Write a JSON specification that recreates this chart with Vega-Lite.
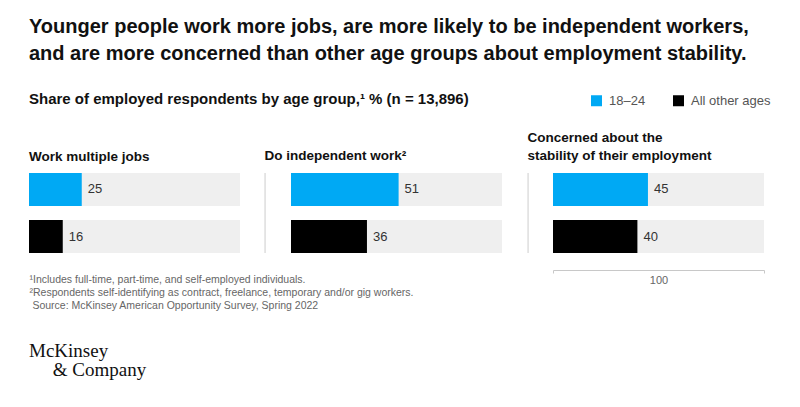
{
  "$schema": "https://vega.github.io/schema/vega-lite/v6.json",
  "padding": {"left": 29, "top": 17, "right": 5, "bottom": 5},
  "background": "white",
  "config": {
    "font": "Liberation Sans",
    "view": {"stroke": null},
    "concat": {"spacing": 51}
  },
  "data": {
    "values": [
      {"panel": "Work multiple jobs", "group": "18–24", "value": 25},
      {"panel": "Work multiple jobs", "group": "All other ages", "value": 16},
      {"panel": "Do independent work", "group": "18–24", "value": 51},
      {"panel": "Do independent work", "group": "All other ages", "value": 36},
      {"panel": "Concerned", "group": "18–24", "value": 45},
      {"panel": "Concerned", "group": "All other ages", "value": 40}
    ]
  },
  "title": {
    "text": ["McKinsey", "\u200b\u00a0\u00a0\u00a0\u00a0\u00a0& Company"],
    "orient": "bottom",
    "anchor": "start",
    "font": "Liberation Serif",
    "fontSize": 19,
    "fontWeight": "normal",
    "lineHeight": 19,
    "color": "#111",
    "offset": 31
  },
  "vconcat": [
    {
      "title": {
        "text": [
          "Younger people work more jobs, are more likely to be independent workers,",
          "and are more concerned than other age groups about employment stability."
        ],
        "subtitle": "Share of employed respondents by age group,¹ % (n = 13,896)",
        "anchor": "start",
        "fontSize": 20,
        "lineHeight": 27,
        "fontWeight": "bold",
        "color": "#111",
        "subtitleFontSize": 15,
        "subtitleFontWeight": "bold",
        "subtitleColor": "#111",
        "subtitlePadding": 28,
        "offset": 24
      },
      "bounds": "flush",
      "hconcat": [
        {
          "width": 211,
          "height": 80,
          "title": {"text": "Work multiple jobs", "anchor": "start", "fontSize": 13.5, "fontWeight": "bold", "color": "#111", "offset": 10},
          "transform": [{"filter": "datum.panel === 'Work multiple jobs'"}],
          "layer": [
            {"mark": {"type": "bar", "color": "#efefef"},
              "encoding": {
                "y": {"field": "group", "type": "nominal", "axis": null,
                  "scale": {"domain": ["18–24", "All other ages"], "paddingInner": 0.3, "paddingOuter": 0}},
                "x": {"datum": 100, "type": "quantitative", "scale": {"domain": [0, 100]},
                "axis": {"domain": false, "ticks": false, "labels": false, "grid": false,
                  "title": [
                    "¹Includes full-time, part-time, and self-employed individuals.",
                    "²Respondents self-identifying as contract, freelance, temporary and/or gig workers.",
                    "\u200b\u00a0Source: McKinsey American Opportunity Survey, Spring 2022"
                  ],
                  "titleAnchor": "start", "titleAlign": "left", "titleFontSize": 10.5, "titleFontWeight": "normal",
                  "titleColor": "#666", "titleLineHeight": 13, "titlePadding": 21}}}},
            {"mark": {"type": "bar"},
              "encoding": {
                "y": {"field": "group", "type": "nominal"},
                "x": {"field": "value", "type": "quantitative"},
                "color": {"field": "group", "type": "nominal",
                  "scale": {"domain": ["18–24", "All other ages"], "range": ["#00a9f4", "#000000"]},
                  "legend": {"title": null, "orient": "none", "direction": "horizontal", "legendX": 561, "legendY": -79,
                    "symbolType": "square", "symbolSize": 121, "symbolStrokeWidth": 0, "symbolOpacity": 1,
                    "labelFontSize": 13, "labelColor": "#555", "columnPadding": 26, "labelOffset": 6}}}},
            {"mark": {"type": "text", "align": "left", "dx": 6, "fontSize": 13, "color": "#333"},
              "encoding": {
                "y": {"field": "group", "type": "nominal"},
                "x": {"field": "value", "type": "quantitative"}, "text": {"field": "value"}}}
          ]
        },
        {
          "width": 211,
          "height": 80,
          "title": {"text": "Do independent work²", "anchor": "start", "fontSize": 13.5, "fontWeight": "bold", "color": "#111", "offset": 10},
          "transform": [{"filter": "datum.panel === 'Do independent work'"}],
          "layer": [
            {"mark": {"type": "bar", "color": "#efefef"},
              "encoding": {
                "y": {"field": "group", "type": "nominal", "axis": null,
                  "scale": {"domain": ["18–24", "All other ages"], "paddingInner": 0.3, "paddingOuter": 0}},
                "x": {"datum": 100, "type": "quantitative", "scale": {"domain": [0, 100]}, "axis": null}}},
            {"mark": {"type": "rule", "color": "#dddddd", "clip": false},
              "encoding": {"x": {"datum": -12.3, "type": "quantitative"}}},
            {"mark": {"type": "bar"},
              "encoding": {
                "y": {"field": "group", "type": "nominal"},
                "x": {"field": "value", "type": "quantitative"},
                "color": {"field": "group", "type": "nominal"}}},
            {"mark": {"type": "text", "align": "left", "dx": 6, "fontSize": 13, "color": "#333"},
              "encoding": {
                "y": {"field": "group", "type": "nominal"},
                "x": {"field": "value", "type": "quantitative"}, "text": {"field": "value"}}}
          ]
        },
        {
          "width": 211,
          "height": 80,
          "title": {"text": ["Concerned about the", "stability of their employment"], "anchor": "start", "fontSize": 13.5, "lineHeight": 18, "fontWeight": "bold", "color": "#111", "offset": 10},
          "transform": [{"filter": "datum.panel === 'Concerned'"}],
          "layer": [
            {"mark": {"type": "bar", "color": "#efefef"},
              "encoding": {
                "y": {"field": "group", "type": "nominal", "axis": null,
                  "scale": {"domain": ["18–24", "All other ages"], "paddingInner": 0.3, "paddingOuter": 0}},
                "x": {"datum": 100, "type": "quantitative", "scale": {"domain": [0, 100]},
                "axis": {"domain": true, "domainColor": "#c8c8c8", "ticks": true, "values": [0, 100], "tickSize": 3,
                  "tickColor": "#c8c8c8", "labels": false, "grid": false, "offset": 17,
                  "title": "100", "titleFontSize": 11, "titleFontWeight": "normal", "titleColor": "#666", "titlePadding": 1}}}},
            {"mark": {"type": "rule", "color": "#dddddd", "clip": false},
              "encoding": {"x": {"datum": -11.8, "type": "quantitative"}}},
            {"mark": {"type": "bar"},
              "encoding": {
                "y": {"field": "group", "type": "nominal"},
                "x": {"field": "value", "type": "quantitative"},
                "color": {"field": "group", "type": "nominal"}}},
            {"mark": {"type": "text", "align": "left", "dx": 6, "fontSize": 13, "color": "#333"},
              "encoding": {
                "y": {"field": "group", "type": "nominal"},
                "x": {"field": "value", "type": "quantitative"}, "text": {"field": "value"}}}
          ]
        }
      ]
    }
  ]
}
